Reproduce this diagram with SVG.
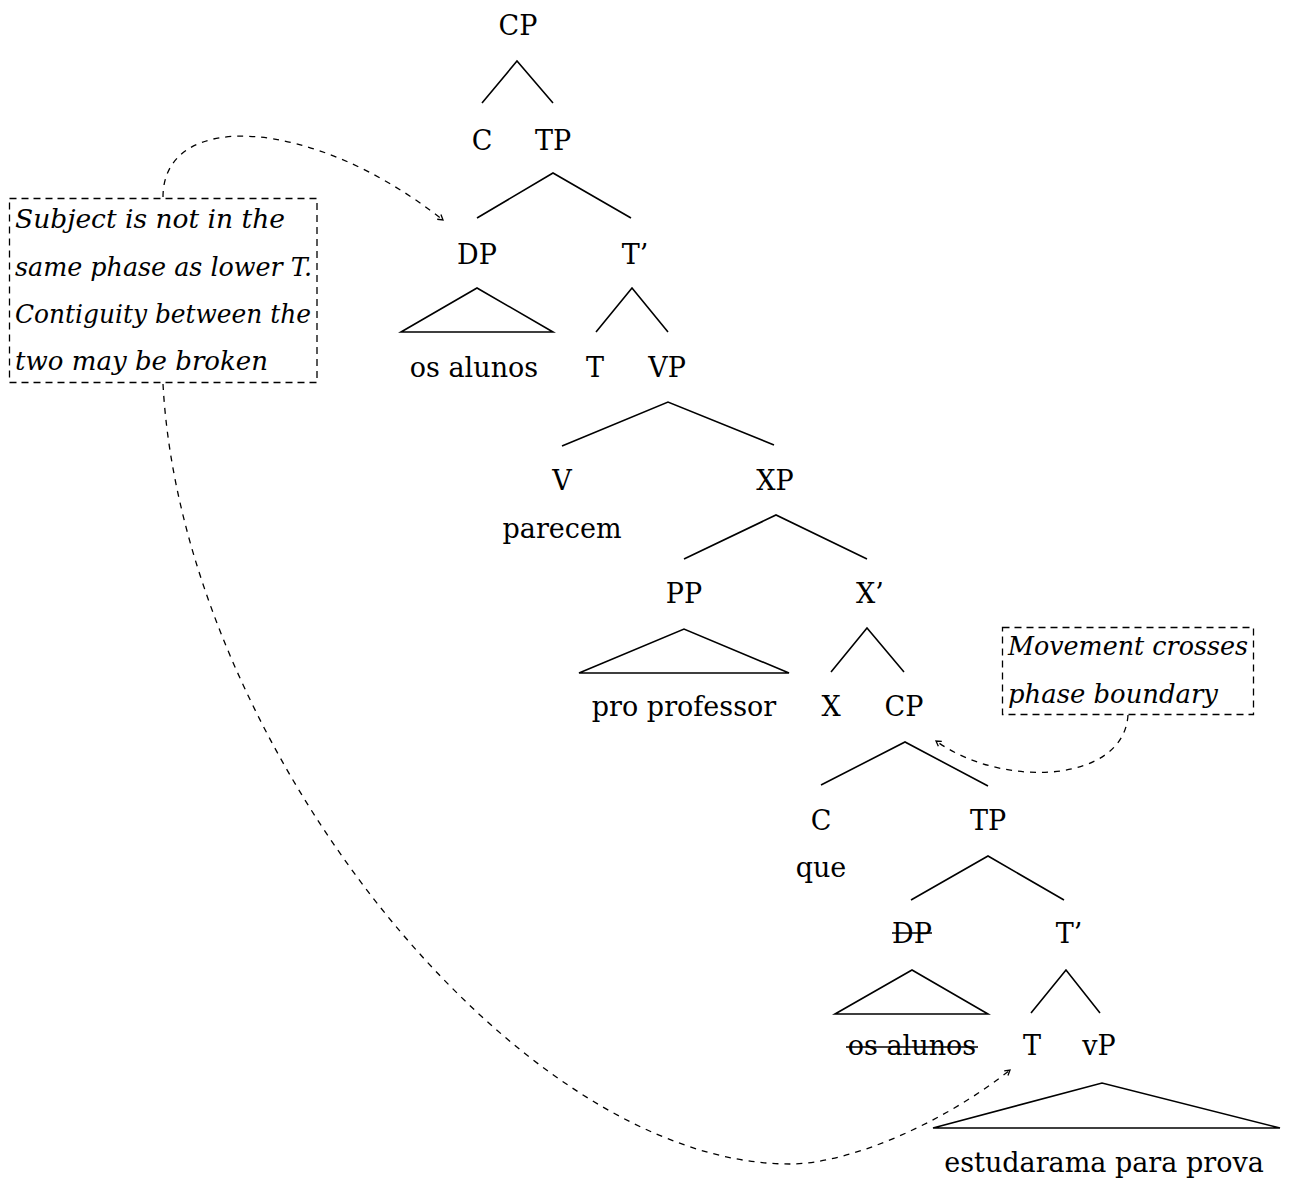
<svg xmlns="http://www.w3.org/2000/svg" width="1289" height="1180" viewBox="0 0 1289 1180">
  <style>
    .lbl { font-family: "DejaVu Serif", "Liberation Serif", serif; font-size: 27px; fill: #000; text-anchor: middle; }
    .note { font-family: "DejaVu Serif", "Liberation Serif", serif; font-style: italic; font-size: 26px; fill: #000; }
    .edge { fill: none; stroke: #000; stroke-width: 1.6; stroke-linejoin: miter; }
    .box { fill: none; stroke: #000; stroke-width: 1.3; stroke-dasharray: 7 5; }
    .move { fill: none; stroke: #000; stroke-width: 1.3; stroke-dasharray: 6 6; }
    .strike { stroke: #000; stroke-width: 1.5; }
  </style>
  <defs>
    <marker id="tip" viewBox="-7 -5 9 10" refX="0" refY="0" markerWidth="9" markerHeight="10" orient="auto" markerUnits="userSpaceOnUse">
      <path d="M-5,-3 L0,0 L-5,3" fill="none" stroke="#000" stroke-width="1.3"/>
    </marker>
  </defs>
  <rect width="1289" height="1180" fill="#fff"/>

  <!-- tree branches and roofs -->
  <g id="connectors">
    <path class="edge" d="M482,103 L517,61 L553,103"/>
    <path class="edge" d="M477,218 L553,173 L631,218"/>
    <path class="edge" d="M401,332 L477,288 L553,332 Z"/>
    <path class="edge" d="M596,332 L632,288 L668,332"/>
    <path class="edge" d="M562,446 L668,402 L774,445"/>
    <path class="edge" d="M684,559 L776,515 L867,559"/>
    <path class="edge" d="M579,673 L684,629 L789,673 Z"/>
    <path class="edge" d="M831,672 L867,628 L904,672"/>
    <path class="edge" d="M821,785 L905,742 L988,786"/>
    <path class="edge" d="M911,900 L988,856 L1064,900"/>
    <path class="edge" d="M835,1014 L912,970 L988,1014 Z"/>
    <path class="edge" d="M1031,1013 L1066,970 L1100,1013"/>
    <path class="edge" d="M933,1128 L1102,1083 L1280,1128 Z"/>
    <!-- movement arrows -->
    <path class="move" d="M163,197 C163,110 310,115 443,220" marker-end="url(#tip)"/>
    <path class="move" d="M163,384 C182,740 515,1164 790,1164 C850,1164 945,1122 1010,1070" marker-end="url(#tip)"/>
    <path class="move" d="M1128,715 C1124,782 1005,790 936,741" marker-end="url(#tip)"/>
  </g>

  <!-- upper clause -->
  <g id="n-cp1"><text class="lbl" x="518" y="35">CP</text></g>
  <g id="n-c1"><text class="lbl" x="482" y="150">C</text></g>
  <g id="n-tp1"><text class="lbl" x="553" y="150">TP</text></g>
  <g id="n-dp1"><text class="lbl" x="477" y="264">DP</text></g>
  <g id="n-tbar1"><text class="lbl" x="635" y="264">T’</text></g>
  <g id="n-os1"><text class="lbl" x="474" y="377">os alunos</text></g>
  <g id="n-t1"><text class="lbl" x="595" y="377">T</text></g>
  <g id="n-vp"><text class="lbl" x="667" y="377">VP</text></g>
  <g id="n-v"><text class="lbl" x="562" y="490">V</text><text class="lbl" x="562" y="538">parecem</text></g>
  <g id="n-xp"><text class="lbl" x="775" y="490">XP</text></g>
  <g id="n-pp"><text class="lbl" x="684" y="603">PP</text></g>
  <g id="n-xbar"><text class="lbl" x="870" y="603">X’</text></g>
  <g id="n-pro"><text class="lbl" x="684" y="716">pro professor</text></g>
  <g id="n-x"><text class="lbl" x="831" y="716">X</text></g>

  <!-- embedded clause -->
  <g id="n-cp2"><text class="lbl" x="904" y="716">CP</text></g>
  <g id="n-c2"><text class="lbl" x="821" y="830">C</text><text class="lbl" x="821" y="877">que</text></g>
  <g id="n-tp2"><text class="lbl" x="988" y="830">TP</text></g>
  <g id="n-dp2"><text class="lbl" x="912" y="943">DP</text><line class="strike" x1="892" y1="933" x2="932" y2="933"/></g>
  <g id="n-tbar2"><text class="lbl" x="1069" y="943">T’</text></g>
  <g id="n-os2"><text class="lbl" x="912" y="1055">os alunos</text><line class="strike" x1="846" y1="1047" x2="978" y2="1047"/></g>
  <g id="n-t2"><text class="lbl" x="1032" y="1055">T</text></g>
  <g id="n-vp2"><text class="lbl" x="1099" y="1055">vP</text></g>
  <g id="n-est"><text class="lbl" x="1104" y="1172">estudarama para prova</text></g>

  <!-- annotations -->
  <g id="note-subject">
    <rect class="box" x="9.5" y="198.5" width="307.5" height="184"/>
    <text class="note" x="15" y="228" textLength="270" lengthAdjust="spacingAndGlyphs">Subject is not in the</text>
    <text class="note" x="15" y="276" textLength="297" lengthAdjust="spacingAndGlyphs">same phase as lower T.</text>
    <text class="note" x="15" y="323" textLength="296" lengthAdjust="spacingAndGlyphs">Contiguity between the</text>
    <text class="note" x="15" y="370" textLength="253" lengthAdjust="spacingAndGlyphs">two may be broken</text>
  </g>
  <g id="note-movement">
    <rect class="box" x="1002.5" y="627.5" width="251" height="87"/>
    <text class="note" x="1008" y="655" textLength="240" lengthAdjust="spacingAndGlyphs">Movement crosses</text>
    <text class="note" x="1008" y="703" textLength="210" lengthAdjust="spacingAndGlyphs">phase boundary</text>
  </g>
</svg>
